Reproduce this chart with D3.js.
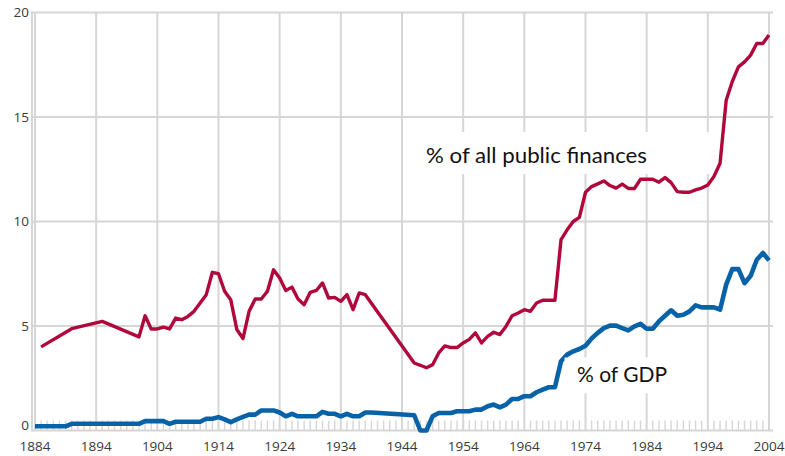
<!DOCTYPE html>
<html><head><meta charset="utf-8">
<script src="https://cdn.jsdelivr.net/npm/d3@7"></script>
<style>body{margin:0;background:#fff}svg{display:block}</style>
</head><body><svg id="c" width="785" height="456"></svg>
<script>
const xTicks = [1884,1894,1904,1914,1924,1934,1944,1954,1964,1974,1984,1994,2004];
const yTicks = [0,5,10,15,20];
const redYears = [1885,1890,1895,1901,1902,1903,1904,1905,1906,1907,1908,1909,1910,1911,1912,1913,1914,1915,1916,1917,1918,1919,1920,1921,1922,1923,1924,1925,1926,1927,1928,1929,1930,1931,1932,1933,1934,1935,1936,1937,1938,1946,1947,1948,1949,1950,1951,1952,1953,1954,1955,1956,1957,1958,1959,1960,1961,1962,1963,1964,1965,1966,1967,1968,1969,1970,1971,1972,1973,1974,1975,1976,1977,1978,1979,1980,1981,1982,1983,1984,1985,1986,1987,1988,1989,1990,1991,1992,1993,1994,1995,1996,1997,1998,1999,2000,2001,2002,2003,2004];
const redValues = [4.0,4.87,5.22,4.48,5.49,4.86,4.86,4.95,4.86,5.38,5.3,5.46,5.7,6.1,6.5,7.57,7.5,6.66,6.26,4.83,4.4,5.7,6.29,6.29,6.66,7.69,7.3,6.7,6.86,6.29,6.02,6.61,6.7,7.06,6.34,6.37,6.18,6.5,5.78,6.58,6.5,3.23,3.12,3.0,3.15,3.71,4.05,3.97,3.97,4.19,4.36,4.67,4.19,4.5,4.7,4.59,4.98,5.49,5.62,5.78,5.7,6.1,6.23,6.23,6.23,9.13,9.6,10.0,10.2,11.4,11.67,11.8,11.94,11.72,11.6,11.79,11.58,11.58,12.02,12.02,12.02,11.88,12.1,11.86,11.43,11.4,11.4,11.51,11.6,11.75,12.15,12.79,15.8,16.7,17.4,17.64,17.96,18.52,18.52,18.92];
const blueYears = [1884,1889,1890,1901,1902,1905,1906,1907,1911,1912,1913,1914,1915,1916,1917,1918,1919,1920,1921,1923,1924,1925,1926,1927,1930,1931,1932,1933,1934,1935,1936,1937,1938,1939,1946,1947,1948,1949,1950,1952,1953,1955,1956,1957,1958,1959,1960,1961,1962,1963,1964,1965,1966,1967,1968,1969,1970,1971,1972,1973,1974,1975,1976,1977,1978,1979,1980,1981,1982,1983,1984,1985,1986,1987,1988,1989,1990,1991,1992,1993,1994,1995,1996,1997,1998,1999,2000,2001,2002,2003,2004];
const blueValues = [0.2,0.2,0.32,0.32,0.45,0.45,0.32,0.42,0.42,0.56,0.56,0.64,0.53,0.4,0.53,0.65,0.76,0.76,0.96,0.96,0.86,0.68,0.8,0.68,0.68,0.89,0.8,0.8,0.68,0.8,0.68,0.68,0.86,0.86,0.73,0.0,0.0,0.68,0.84,0.84,0.92,0.92,1.0,1.0,1.16,1.24,1.11,1.24,1.51,1.51,1.64,1.64,1.83,1.96,2.07,2.07,3.31,3.63,3.79,3.9,4.06,4.4,4.67,4.9,5.02,5.02,4.9,4.79,4.98,5.1,4.87,4.87,5.22,5.49,5.75,5.49,5.54,5.7,5.99,5.89,5.89,5.89,5.78,6.98,7.72,7.72,7.05,7.4,8.17,8.49,8.14];
const labels = ["% of all public finances", "% of GDP"];

const svg = d3.select("#c");
const x = d3.scaleLinear().domain([1884,2004]).range([35,769]);
const y = d3.scaleLinear().domain([0,20]).range([430.5,12.5]);
const grid = "#d6d6d6";

svg.append("g").selectAll("line").data(yTicks).join("line")
  .attr("x1",32).attr("x2",773).attr("y1",d=>y(d)).attr("y2",d=>y(d))
  .attr("stroke",grid).attr("stroke-width",2);
svg.append("line").attr("x1",32).attr("x2",32).attr("y1",y(20)-1).attr("y2",y(0)+1)
  .attr("stroke",grid).attr("stroke-width",2);
svg.append("g").selectAll("line").data(xTicks).join("line")
  .attr("x1",d=>x(d)).attr("x2",d=>x(d)).attr("y1",y(20)).attr("y2",y(0))
  .attr("stroke",grid).attr("stroke-width",2);
const minor = d3.range(1884,2005).filter(v=>(v-1884)%10!==0);
svg.append("g").selectAll("line").data(minor).join("line")
  .attr("x1",d=>x(d)).attr("x2",d=>x(d)).attr("y1",y(0)-10).attr("y2",y(0))
  .attr("stroke",grid).attr("stroke-width",1.4);

svg.append("g").selectAll("text").data(yTicks).join("text")
  .attr("x",29).attr("y",d=>d===0?430:y(d)).attr("dy",d=>d===0?"0":"0.36em").attr("text-anchor","end")
  .attr("font-family","Open Sans, sans-serif").attr("font-size",13.5).attr("fill","#3a3a3a")
  .text(d=>d);
svg.append("g").selectAll("text").data(xTicks).join("text")
  .attr("x",d=>x(d)).attr("y",451).attr("text-anchor","middle")
  .attr("font-family","Open Sans, sans-serif").attr("font-size",13.5).attr("fill","#3a3a3a")
  .text(d=>d);

const line = d3.line().x(d=>x(d[0])).y(d=>y(d[1]));
svg.append("path").datum(redYears.map((yr,i)=>[yr,redValues[i]]))
  .attr("d",line).attr("fill","none").attr("stroke","#b0083b").attr("stroke-width",3.4)
  .attr("stroke-linejoin","round");
svg.append("path").datum(blueYears.map((yr,i)=>[yr,blueValues[i]]))
  .attr("d",line).attr("fill","none").attr("stroke","#0762a8").attr("stroke-width",4.6)
  .attr("stroke-linejoin","round");

svg.append("rect").attr("x",415).attr("y",132).attr("width",295).attr("height",42).attr("fill","#fff");
svg.append("rect").attr("x",564.5).attr("y",357.5).attr("width",120).attr("height",36).attr("fill","#fff");
svg.append("text").attr("x",426).attr("y",163).attr("font-family","Lato, sans-serif")
  .attr("font-size",21).attr("fill","#111").attr("textLength",221).attr("lengthAdjust","spacingAndGlyphs").text(labels[0]);
svg.append("text").attr("x",577).attr("y",381.5).attr("font-family","Lato, sans-serif")
  .attr("font-size",21).attr("fill","#111").attr("textLength",90).attr("lengthAdjust","spacingAndGlyphs").text(labels[1]);
</script></body></html>
